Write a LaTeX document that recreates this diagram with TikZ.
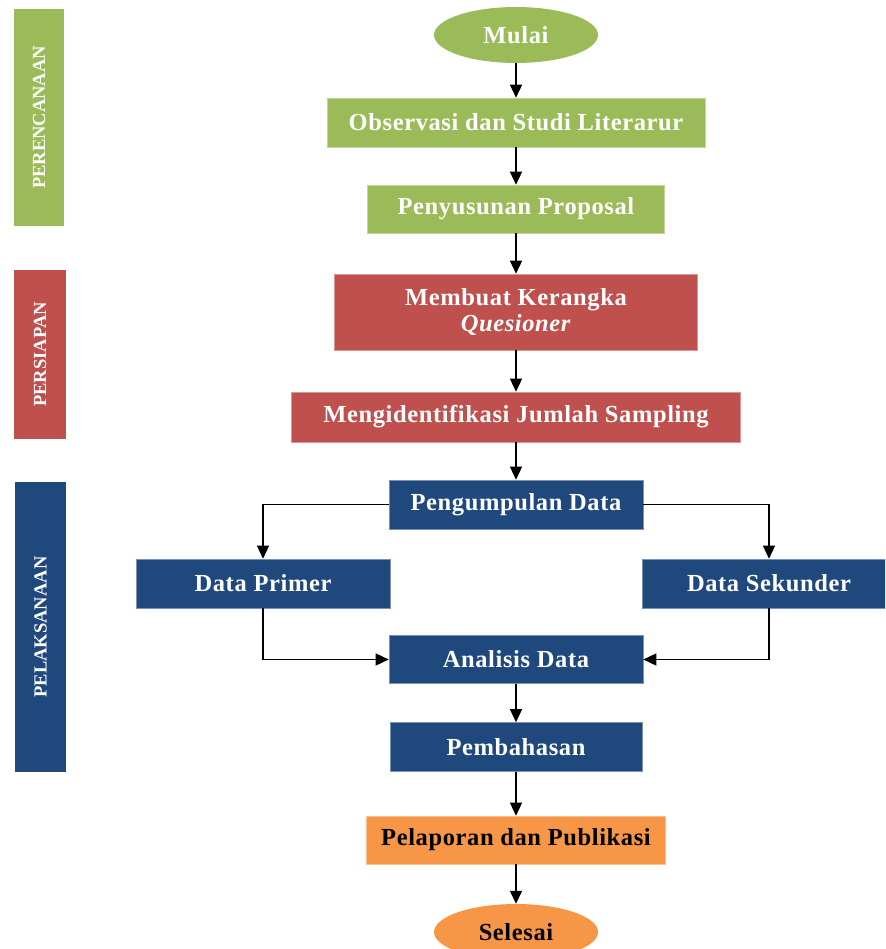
\documentclass[tikz,border=0pt]{standalone}
\usepackage{fontspec}
\setmainfont{Liberation Serif}
\usetikzlibrary{arrows.meta,shapes.geometric}
\definecolor{cgreen}{HTML}{9BBB59}
\definecolor{cred}{HTML}{C0504D}
\definecolor{cblue}{HTML}{1F497D}
\definecolor{corange}{HTML}{F79646}
\newcommand{\boxfont}{\fontsize{24.5}{27}\selectfont\bfseries\addfontfeatures{LetterSpace=2.5}}
\begin{document}
\begin{tikzpicture}[x=1pt,y=-1pt,
  box/.style={rectangle, inner sep=0pt, font=\boxfont, text=white, align=center},
  gbox/.style={box, fill=cgreen, draw=cgreen!60!white, line width=0.6pt},
  rbox/.style={box, fill=cred, draw=cred!60!white, line width=0.6pt},
  bbox/.style={box, fill=cblue, draw=cblue!60!white, line width=0.6pt},
  obox/.style={box, fill=corange, draw=corange!60!white, line width=0.6pt, text=black},
  terminal/.style={ellipse, inner sep=0pt, font=\boxfont, minimum width=164, minimum height=56},
  side/.style={rectangle, rotate=90, inner sep=0pt, font=\fontsize{18.5}{20}\selectfont\bfseries, text=white},
  arr/.style={-{Triangle[length=13pt,width=12pt]}, line width=1.4pt, black}
]
\useasboundingbox (0,0) rectangle (885,949);
\clip (0,0) rectangle (885,949);
% side bars
\node[side, fill=cgreen, minimum width=217, minimum height=50] (s1) at (39,117.5) {PERENCANAAN};
\node[side, fill=cred, minimum width=169, minimum height=52] (s2) at (40,354.5) {PERSIAPAN};
\node[side, fill=cblue, minimum width=290, minimum height=51] (s3) at (40.5,627) {PELAKSANAAN};
% flow
\node[terminal, fill=cgreen, text=white] (mulai) at (516,35) {Mulai};
\node[gbox, minimum width=378, minimum height=49] (obs) at (516,122.5) {Observasi dan Studi Literarur};
\node[gbox, minimum width=297, minimum height=48] (pen) at (516,209) {Penyusunan Proposal};
\node[rbox, minimum width=363, minimum height=76] (mem) at (516,312) {Membuat Kerangka\\[-1pt]\textit{Quesioner}};
\node[rbox, minimum width=449, minimum height=50] (ident) at (516,417) {Mengidentifikasi Jumlah Sampling};
\node[bbox, minimum width=254, minimum height=49] (kumpul) at (516,504.5) {Pengumpulan Data};
\node[bbox, minimum width=254, minimum height=49] (primer) at (263,583.5) {Data Primer};
\node[bbox, minimum width=254, minimum height=49] (sekunder) at (769,583.5) {Data Sekunder};
\node[bbox, minimum width=254, minimum height=48] (analisis) at (516,659.5) {Analisis Data};
\node[bbox, minimum width=252, minimum height=49] (bahas) at (516,747) {Pembahasan};
\node[obox, minimum width=299, minimum height=48] (lapor) at (516,840) {Pelaporan dan Publikasi};
\node[terminal, fill=corange, text=black] (selesai) at (516,932) {Selesai};
% connectors
\draw[arr] (mulai) -- (obs);
\draw[arr] (obs) -- (pen);
\draw[arr] (pen) -- (mem);
\draw[arr] (mem) -- (ident);
\draw[arr] (ident) -- (kumpul);
\draw[arr] (kumpul.west) -| (primer.north);
\draw[arr] (kumpul.east) -| (sekunder.north);
\draw[arr] (primer.south) |- (analisis.west);
\draw[arr] (sekunder.south) |- (analisis.east);
\draw[arr] (analisis) -- (bahas);
\draw[arr] (bahas) -- (lapor);
\draw[arr] (lapor) -- (selesai);
\end{tikzpicture}
\end{document}
